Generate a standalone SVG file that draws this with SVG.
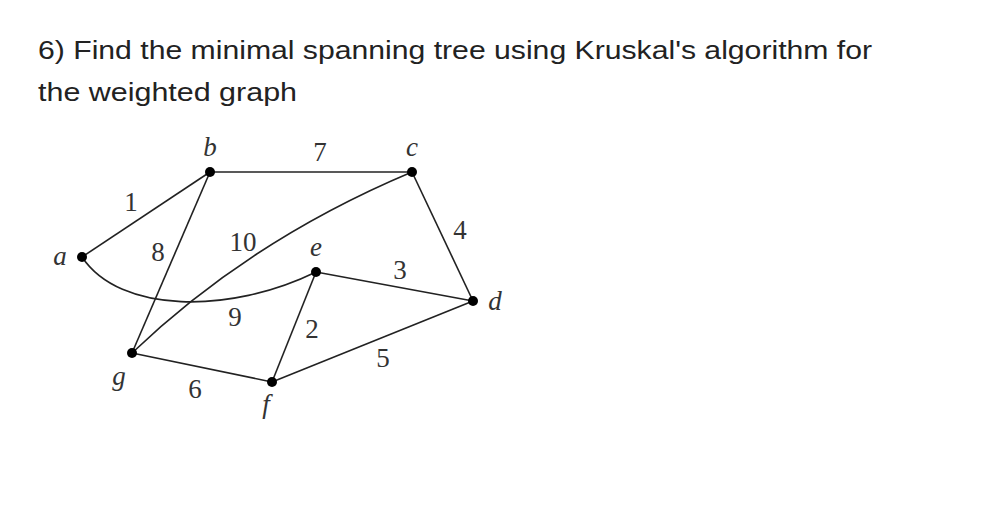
<svg xmlns="http://www.w3.org/2000/svg" width="998" height="508" viewBox="0 0 998 508">
<style>
.title{font-family:"Liberation Sans",Arial,sans-serif;font-size:26.5px;fill:#222}
.lbl{font-family:"Liberation Serif","Times New Roman",serif;font-size:27px;fill:#333;text-anchor:middle}
.v{font-style:italic}
.e{stroke:#222;stroke-width:1.6;fill:none}
.n{fill:#000}
</style>
<rect width="998" height="508" fill="#fff"/>
<text class="title" x="38" y="59" textLength="834" lengthAdjust="spacingAndGlyphs">6) Find the minimal spanning tree using Kruskal's algorithm for</text>
<text class="title" x="38" y="101" textLength="259" lengthAdjust="spacingAndGlyphs">the weighted graph</text>
<g id="edges">
<line class="e" x1="82" y1="257" x2="210" y2="172"/>
<line class="e" x1="210" y1="172" x2="412" y2="172"/>
<line class="e" x1="210" y1="172" x2="132" y2="353"/>
<path class="e" d="M132,353 Q250,240 412,172"/>
<path class="e" d="M82,257 C120,314 230,314 316,272"/>
<line class="e" x1="316" y1="272" x2="473" y2="301"/>
<line class="e" x1="412" y1="172" x2="473" y2="301"/>
<line class="e" x1="316" y1="272" x2="272" y2="382"/>
<line class="e" x1="132" y1="353" x2="272" y2="382"/>
<line class="e" x1="272" y1="382" x2="473" y2="301"/>
</g>
<g id="edge-labels">
<text class="lbl" x="131" y="211">1</text>
<text class="lbl" x="320" y="161">7</text>
<text class="lbl" x="158" y="261">8</text>
<text class="lbl" x="243" y="251">10</text>
<text class="lbl" x="460" y="239">4</text>
<text class="lbl" x="400" y="279">3</text>
<text class="lbl" x="235" y="326">9</text>
<text class="lbl" x="312" y="338">2</text>
<text class="lbl" x="195" y="398">6</text>
<text class="lbl" x="383" y="367">5</text>
</g>
<g id="node-a"><circle class="n" cx="82" cy="257" r="5"/><text class="lbl v" x="60" y="265">a</text></g>
<g id="node-b"><circle class="n" cx="210" cy="172" r="5"/><text class="lbl v" x="210" y="156">b</text></g>
<g id="node-c"><circle class="n" cx="412" cy="172" r="5"/><text class="lbl v" x="412" y="156">c</text></g>
<g id="node-d"><circle class="n" cx="473" cy="301" r="5"/><text class="lbl v" x="495" y="310">d</text></g>
<g id="node-e"><circle class="n" cx="316" cy="272" r="5"/><text class="lbl v" x="316" y="256">e</text></g>
<g id="node-f"><circle class="n" cx="272" cy="382" r="5"/><text class="lbl v" x="266" y="413">f</text></g>
<g id="node-g"><circle class="n" cx="132" cy="353" r="5"/><text class="lbl v" x="119" y="385">g</text></g>
</svg>
